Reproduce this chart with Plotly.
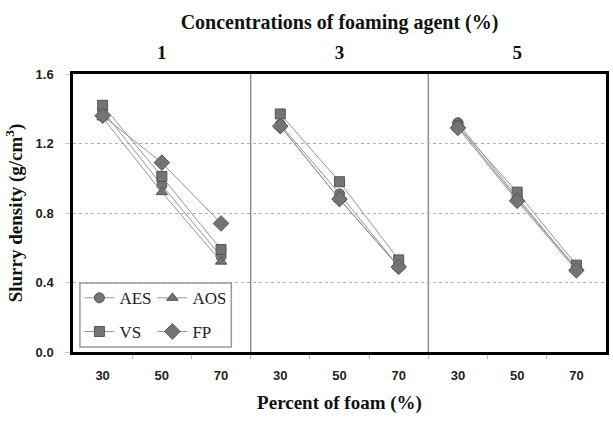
import plotly.graph_objects as go

concentrations = ["1", "3", "5"]
foam_pct = ["30", "50", "70"]
y_ticks = [0.0, 0.4, 0.8, 1.2, 1.6]

# values per concentration panel (1, 3, 5), each at foam 30, 50, 70
AES = [[1.39, 0.96, 0.55], [1.31, 0.91, 0.49], [1.32, 0.89, 0.48]]
AOS = [[1.35, 0.92, 0.52], [1.30, 0.88, 0.49], [1.30, 0.88, 0.48]]
VS = [[1.42, 1.01, 0.59], [1.37, 0.98, 0.53], [1.30, 0.92, 0.50]]
FP = [[1.36, 1.09, 0.74], [1.30, 0.88, 0.49], [1.29, 0.87, 0.47]]

series = [("AES", AES, "circle", "legend"), ("AOS", AOS, "triangle-up", "legend"),
          ("VS", VS, "square", "legend2"), ("FP", FP, "diamond", "legend2")]

nc = len(foam_pct)
ntot = nc * len(concentrations)
fig = go.Figure()
for name, vals, sym, leg in series:
    xs, ys = [], []
    for p, panel in enumerate(vals):
        for i, v in enumerate(panel):
            xs.append(p * nc + i)
            ys.append(v)
        xs.append(None)
        ys.append(None)
    fig.add_trace(go.Scatter(
        x=xs, y=ys, name=name, mode="lines+markers", legend=leg,
        line=dict(color="#959595", width=1),
        marker=dict(symbol=sym, size=10 if sym != "diamond" else 12,
                    color="#747474", line=dict(color="#555555", width=1)),
        connectgaps=False,
    ))

# dummy trace to activate the top axis
fig.add_trace(go.Scatter(x=[0], y=[None], xaxis="x2", showlegend=False, hoverinfo="skip"))

for k in range(1, len(concentrations)):
    fig.add_shape(type="line", xref="x", yref="y",
                  x0=k * nc - 0.5, x1=k * nc - 0.5, y0=0, y1=1.6,
                  line=dict(color="#8f8f8f", width=1.5), layer="below")

# legend frame
fig.add_shape(type="rect", xref="paper", yref="paper",
              x0=0.013, x1=0.297, y0=0.018, y1=0.248,
              line=dict(color="#9a9a9a", width=1.5), fillcolor="white", layer="above")

tickfont = dict(family="Liberation Sans Narrow, Liberation Sans, Arial", size=13, color="#222")
serif = "Liberation Serif, Times New Roman, serif"
legfont = dict(family=serif, size=17, color="#222")

fig.update_layout(
    width=613, height=424,
    margin=dict(l=73, r=4, t=74, b=72),
    paper_bgcolor="white", plot_bgcolor="white",
    showlegend=True,
    legend=dict(orientation="h", x=0.012, y=0.258, xanchor="left", yanchor="top",
                bgcolor="rgba(0,0,0,0)", borderwidth=0,
                entrywidth=28, entrywidthmode="pixels", itemwidth=30, font=legfont),
    legend2=dict(orientation="h", x=0.012, y=0.137, xanchor="left", yanchor="top",
                 bgcolor="rgba(0,0,0,0)", borderwidth=0,
                 entrywidth=28, entrywidthmode="pixels", itemwidth=30, font=legfont),
    xaxis=dict(
        range=[-0.5, ntot - 0.5],
        tickmode="array",
        tickvals=list(range(ntot)),
        ticktext=["<b>%s</b>" % t for t in foam_pct * len(concentrations)],
        tickfont=tickfont,
        showgrid=False, zeroline=False,
        showline=True, linecolor="black", linewidth=2.5, mirror=True,
        ticks="", ticklabelstandoff=10,
        minor=dict(tickmode="array", tickvals=[i + 0.5 for i in range(ntot - 1)],
                   ticks="outside", ticklen=4, tickcolor="#bbbbbb", showgrid=False),
        title=dict(text="<b>Percent of foam (%)</b>",
                   font=dict(family=serif, size=19, color="#111"), standoff=14),
    ),
    xaxis2=dict(
        overlaying="x", side="top", range=[-0.5, ntot - 0.5],
        tickmode="array",
        tickvals=[p * nc + (nc - 1) / 2 for p in range(len(concentrations))],
        ticktext=["<b>%s</b>" % c for c in concentrations],
        tickfont=dict(family=serif, size=19, color="#111"),
        showgrid=False, zeroline=False, showline=False, ticks="",
        ticklabelstandoff=10,
        title=dict(text="<b>Concentrations of foaming agent (%)</b>",
                   font=dict(family=serif, size=20, color="#111"), standoff=7),
    ),
    yaxis=dict(
        range=[0, 1.6],
        tickmode="array", tickvals=y_ticks,
        ticktext=["<b>%.1f</b>" % v for v in y_ticks],
        tickfont=tickfont,
        showgrid=True, gridcolor="#b0b0b0", griddash="dot", gridwidth=1,
        zeroline=False,
        showline=True, linecolor="black", linewidth=2.5, mirror=True,
        ticks="outside", ticklen=5, tickcolor="#c8c8c8", ticklabelstandoff=9,
        title=dict(text="<b>Slurry density (g/cm<sup>3</sup>)</b>",
                   font=dict(family=serif, size=19, color="#111"), standoff=8),
    ),
)

fig.write_html("out.html")
